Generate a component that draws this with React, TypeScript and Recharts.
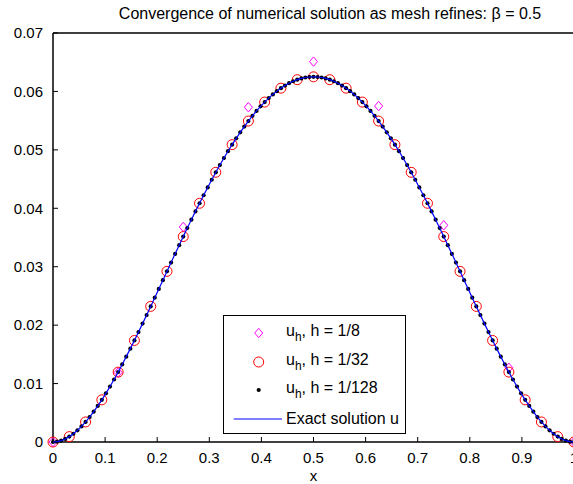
import React from 'react';
import { ScatterChart, Scatter, XAxis, YAxis } from 'recharts';

// mesh nodes, h = 1/128
const xFine = [
  0, 0.0078, 0.0156, 0.0234, 0.0313, 0.0391, 0.0469, 0.0547,
  0.0625, 0.0703, 0.0781, 0.0859, 0.0938, 0.1016, 0.1094, 0.1172,
  0.125, 0.1328, 0.1406, 0.1484, 0.1563, 0.1641, 0.1719, 0.1797,
  0.1875, 0.1953, 0.2031, 0.2109, 0.2188, 0.2266, 0.2344, 0.2422,
  0.25, 0.2578, 0.2656, 0.2734, 0.2813, 0.2891, 0.2969, 0.3047,
  0.3125, 0.3203, 0.3281, 0.3359, 0.3438, 0.3516, 0.3594, 0.3672,
  0.375, 0.3828, 0.3906, 0.3984, 0.4063, 0.4141, 0.4219, 0.4297,
  0.4375, 0.4453, 0.4531, 0.4609, 0.4688, 0.4766, 0.4844, 0.4922,
  0.5, 0.5078, 0.5156, 0.5234, 0.5313, 0.5391, 0.5469, 0.5547,
  0.5625, 0.5703, 0.5781, 0.5859, 0.5938, 0.6016, 0.6094, 0.6172,
  0.625, 0.6328, 0.6406, 0.6484, 0.6563, 0.6641, 0.6719, 0.6797,
  0.6875, 0.6953, 0.7031, 0.7109, 0.7188, 0.7266, 0.7344, 0.7422,
  0.75, 0.7578, 0.7656, 0.7734, 0.7813, 0.7891, 0.7969, 0.8047,
  0.8125, 0.8203, 0.8281, 0.8359, 0.8438, 0.8516, 0.8594, 0.8672,
  0.875, 0.8828, 0.8906, 0.8984, 0.9063, 0.9141, 0.9219, 0.9297,
  0.9375, 0.9453, 0.9531, 0.9609, 0.9688, 0.9766, 0.9844, 0.9922,
  1,
];
const uFine = [
  0, 0.00006, 0.00024, 0.00052, 0.00092, 0.00141, 0.002, 0.00267,
  0.00343, 0.00427, 0.00519, 0.00617, 0.00722, 0.00833, 0.00949, 0.0107,
  0.01196, 0.01327, 0.01461, 0.01598, 0.01738, 0.01881, 0.02026, 0.02173,
  0.02321, 0.0247, 0.0262, 0.0277, 0.02921, 0.03071, 0.0322, 0.03368,
  0.03516, 0.03661, 0.03805, 0.03947, 0.04086, 0.04223, 0.04357, 0.04488,
  0.04616, 0.0474, 0.0486, 0.04977, 0.05089, 0.05197, 0.053, 0.05399,
  0.05493, 0.05582, 0.05666, 0.05745, 0.05818, 0.05886, 0.05949, 0.06005,
  0.06056, 0.06101, 0.06141, 0.06174, 0.06201, 0.06223, 0.06238, 0.06247,
  0.0625, 0.06247, 0.06238, 0.06223, 0.06201, 0.06174, 0.06141, 0.06101,
  0.06056, 0.06005, 0.05949, 0.05886, 0.05818, 0.05745, 0.05666, 0.05582,
  0.05493, 0.05399, 0.053, 0.05197, 0.05089, 0.04977, 0.0486, 0.0474,
  0.04616, 0.04488, 0.04357, 0.04223, 0.04086, 0.03947, 0.03805, 0.03661,
  0.03516, 0.03368, 0.0322, 0.03071, 0.02921, 0.0277, 0.0262, 0.0247,
  0.02321, 0.02173, 0.02026, 0.01881, 0.01738, 0.01598, 0.01461, 0.01327,
  0.01196, 0.0107, 0.00949, 0.00833, 0.00722, 0.00617, 0.00519, 0.00427,
  0.00343, 0.00267, 0.002, 0.00141, 0.00092, 0.00052, 0.00024, 0.00006,
  0,
];

// h = 1/32
const xMid = [
  0, 0.03125, 0.0625, 0.09375, 0.125, 0.15625, 0.1875, 0.21875,
  0.25, 0.28125, 0.3125, 0.34375, 0.375, 0.40625, 0.4375, 0.46875,
  0.5, 0.53125, 0.5625, 0.59375, 0.625, 0.65625, 0.6875, 0.71875,
  0.75, 0.78125, 0.8125, 0.84375, 0.875, 0.90625, 0.9375, 0.96875, 1,
];
const uMid = [
  0, 0.00092, 0.00343, 0.00722, 0.01196, 0.01738, 0.02321, 0.02921,
  0.03516, 0.04086, 0.04616, 0.05089, 0.05493, 0.05818, 0.06056, 0.06201,
  0.0625, 0.06201, 0.06056, 0.05818, 0.05493, 0.05089, 0.04616, 0.04086,
  0.03516, 0.02921, 0.02321, 0.01738, 0.01196, 0.00722, 0.00343, 0.00092, 0,
];

// h = 1/8
const xCoarse = [0, 0.125, 0.25, 0.375, 0.5, 0.625, 0.75, 0.875, 1];
const uCoarse = [0, 0.0119, 0.0368, 0.0573, 0.0651, 0.0575, 0.0371, 0.0127, 0];

const xTicks = [0, 0.1, 0.2, 0.3, 0.4, 0.5, 0.6, 0.7, 0.8, 0.9, 1];
const yTicks = [0, 0.01, 0.02, 0.03, 0.04, 0.05, 0.06, 0.07];

const zip = (xs: number[], ys: number[]) => xs.map((x, i) => ({ x, y: ys[i] }));

const FONT = '"Liberation Sans", Arial, Helvetica, sans-serif';

const Diamond = (p: any) => (
  <polygon
    points={`${p.cx},${p.cy - 4.7} ${p.cx + 4},${p.cy} ${p.cx},${p.cy + 4.7} ${p.cx - 4},${p.cy}`}
    fill="none"
    stroke="#ff00ff"
    strokeWidth={1}
  />
);
const Ring = (p: any) => <circle cx={p.cx} cy={p.cy} r={5} fill="none" stroke="#ff0000" strokeWidth={1} />;
const Dot = (p: any) => <circle cx={p.cx} cy={p.cy} r={2.1} fill="#000" />;
const NoMark = () => <g />;

const tickStyle = { fill: '#000', fontSize: 15, fontFamily: FONT };
const axisLine = { stroke: '#000', strokeWidth: 1.5 };

const LegendBox = () => {
  const row = { display: 'flex', alignItems: 'center', height: 28.7 } as const;
  const icon = { width: 62, flex: 'none' } as const;
  const sub = { fontSize: 12, verticalAlign: -5 };
  return (
    <div
      style={{
        position: 'absolute', left: 223, top: 315, width: 181, height: 114,
        border: '1.5px solid #000', background: '#fff',
        fontFamily: FONT, fontSize: 16, color: '#000', paddingTop: 2.5, boxSizing: 'content-box',
      }}
    >
      <div style={row}>
        <svg style={icon} width={62} height={20}>
          <polygon points="34.7,5.3 38.7,10 34.7,14.7 30.7,10" fill="none" stroke="#ff00ff" />
        </svg>
        <span>u<span style={sub}>h</span>, h = 1/8</span>
      </div>
      <div style={row}>
        <svg style={icon} width={62} height={20}>
          <circle cx={34.7} cy={10} r={5} fill="none" stroke="#ff0000" />
        </svg>
        <span>u<span style={sub}>h</span>, h = 1/32</span>
      </div>
      <div style={row}>
        <svg style={icon} width={62} height={20}>
          <circle cx={34.7} cy={10} r={2.1} fill="#000" />
        </svg>
        <span>u<span style={sub}>h</span>, h = 1/128</span>
      </div>
      <div style={row}>
        <svg style={icon} width={62} height={20}>
          <line x1={9.7} x2={58} y1={10} y2={10} stroke="#0000ff" />
        </svg>
        <span>Exact solution u</span>
      </div>
    </div>
  );
};

export default function App() {
  return (
    <div style={{ position: 'absolute', left: 0, top: 0, width: 573, height: 484, overflow: 'hidden', background: '#fff' }}>
      <div
        style={{
          position: 'absolute', left: 0, width: 660, top: 5, textAlign: 'center',
          fontFamily: FONT, fontSize: 16, color: '#000', whiteSpace: 'nowrap',
        }}
      >
        Convergence of numerical solution as mesh refines: β = 0.5
      </div>
      <ScatterChart width={580} height={484} margin={{ top: 32, right: 5, bottom: 0, left: 0 }}>
        <XAxis
          dataKey="x" type="number" domain={[0, 1]} ticks={xTicks} interval={0}
          height={42} tickSize={-5} tickMargin={15} tick={tickStyle}
          axisLine={axisLine} tickLine={{ stroke: '#000' }}
          label={{ value: 'x', position: 'insideTop', offset: 28, fill: '#000', fontSize: 15, fontFamily: FONT }}
        />
        <XAxis
          xAxisId="top" orientation="top" type="number" domain={[0, 1]} ticks={xTicks} interval={0}
          height={1} tickSize={-5} tick={false}
          axisLine={axisLine} tickLine={{ stroke: '#000' }}
        />
        <YAxis
          dataKey="y" type="number" domain={[0, 0.07]} ticks={yTicks} interval={0}
          width={53} tickSize={-5} tickMargin={15} tick={tickStyle}
          axisLine={axisLine} tickLine={{ stroke: '#000' }}
        />
        <YAxis
          yAxisId="right" orientation="right" type="number" domain={[0, 0.07]} ticks={yTicks} interval={0}
          width={1} tickSize={-5} tick={false}
          axisLine={axisLine} tickLine={{ stroke: '#000' }}
        />
        <Scatter data={zip(xCoarse, uCoarse)} shape={Diamond} isAnimationActive={false} />
        <Scatter data={zip(xMid, uMid)} shape={Ring} isAnimationActive={false} />
        <Scatter data={zip(xFine, uFine)} shape={Dot} isAnimationActive={false} />
        <Scatter
          data={zip(xFine, uFine)} shape={NoMark} isAnimationActive={false}
          line={{ stroke: '#0000ff', strokeWidth: 1.2 }}
        />
      </ScatterChart>
      <LegendBox />
    </div>
  );
}
